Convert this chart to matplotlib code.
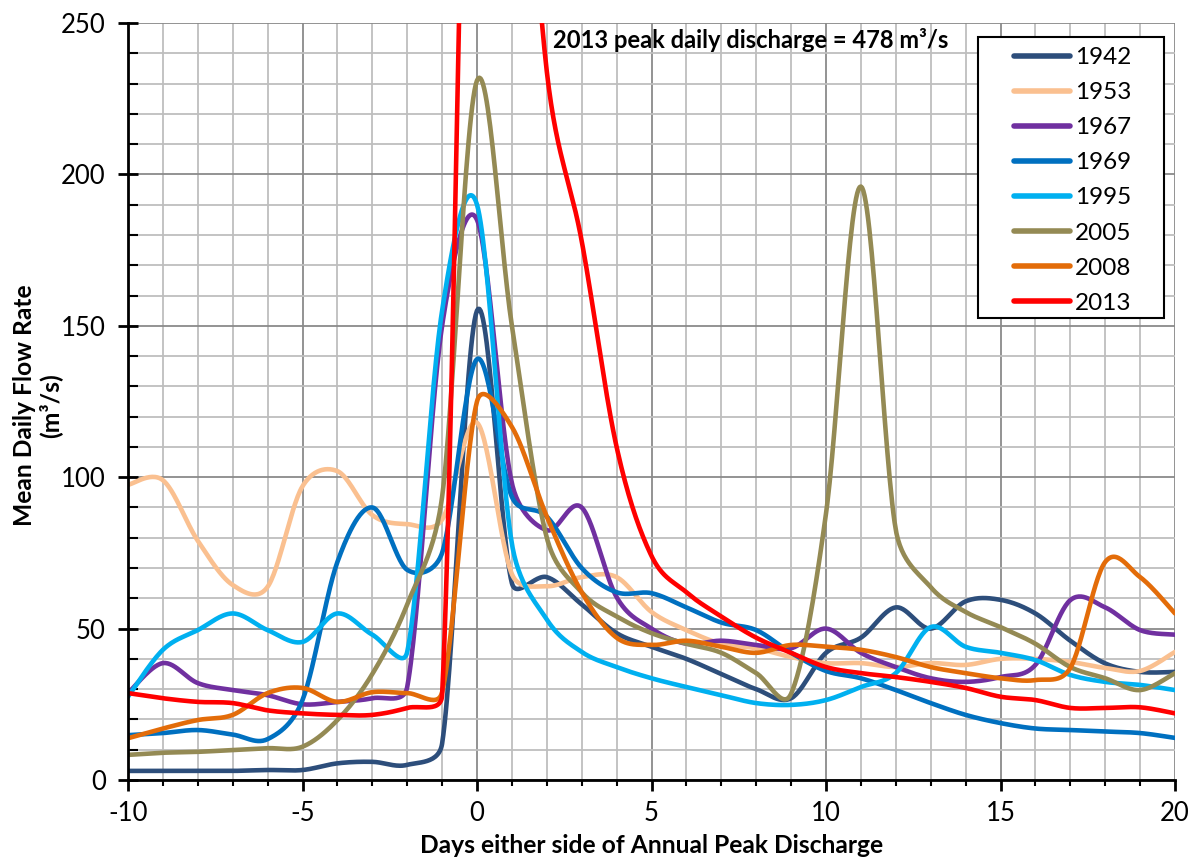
import numpy as np
import matplotlib
matplotlib.use("Agg")
import matplotlib.pyplot as plt
from matplotlib.patches import Rectangle
from matplotlib.ticker import MultipleLocator

plt.rcParams["font.family"] = ["Lato", "DejaVu Sans"]
plt.rcParams["axes.unicode_minus"] = False

days = list(range(-10, 21))

flow_1942 = [3, 3, 3, 3, 3.3, 3.3, 5.5, 6, 5, 12, 155, 65, 67, 58, 48.5, 44, 40, 35, 30, 27,
             42, 47, 57, 50, 59, 59.5, 55, 46, 38.5, 35.7, 35.7]
flow_1953 = [97.5, 99, 79, 64.4, 63.8, 97, 102, 87.5, 84.5, 86, 118, 68, 64, 67, 67, 55.5, 49.5,
             45, 43.5, 40.6, 38.6, 38.6, 37.3, 38.6, 38, 40, 40, 39, 37, 36, 42.3]
flow_1967 = [28.7, 38.6, 32, 29.7, 28, 25, 25.8, 27, 30.7, 150, 185, 98, 82.5, 90, 60.4, 50, 45,
             46, 44.6, 43.5, 50, 42, 37.3, 33.6, 32.4, 34, 38, 59.4, 57, 49.5, 48]
flow_1969 = [14.8, 15.5, 16.5, 15, 13.5, 26.4, 72, 90, 69.4, 75, 139, 93.5, 87, 70, 62, 61.7, 57,
             52, 49.5, 42, 36, 33.6, 29.7, 25.4, 21.5, 18.8, 17, 16.5, 16, 15.5, 13.9]
flow_1995 = [27.5, 43, 49.5, 55, 49.5, 45.6, 55, 48, 42.3, 155, 190, 78, 53, 42.3, 37.3, 33.6,
             30.7, 28, 25.4, 24.8, 26.4, 30.7, 35.3, 50.5, 44, 42, 39.6, 34.7, 32.4, 31.4, 29.7]
flow_2005 = [8.3, 9, 9.3, 9.9, 10.5, 11, 19.8, 35, 58, 93.5, 231, 150, 80, 62, 54, 48.5, 45, 42,
             35.3, 28.5, 88, 196, 82.6, 63.7, 55.5, 50.5, 45, 37.3, 33.6, 29.7, 35.3]
flow_2008 = [13.8, 17, 19.8, 21.5, 28.7, 30.4, 25.8, 29, 28.7, 29, 125, 116.6, 87, 62, 47, 44.6,
             46, 44, 42, 44.6, 44, 43, 40.6, 37.3, 35.3, 33.6, 33, 37, 72, 67, 55]
flow_2013 = [28.7, 27, 25.8, 25.4, 23, 22, 21.5, 21.5, 23.8, 28, 478, 380, 234, 178, 110, 74, 62,
             54, 47, 42, 37.3, 35.3, 34, 32.4, 30.4, 27.5, 26.4, 23.8, 23.8, 24, 22]

years = ["1942", "1953", "1967", "1969", "1995", "2005", "2008", "2013"]
series = [flow_1942, flow_1953, flow_1967, flow_1969, flow_1995, flow_2005, flow_2008, flow_2013]
colors = ["#2D4E7B", "#FAC090", "#7030A0", "#0070C0", "#00B0F0", "#948A54", "#E36C09", "#FF0000"]


def smooth(x, y, n=30, sx=34.9, sy=3.028):
    # bezier "smoothed line" like excel draws, control arms capped at half a segment
    P = np.column_stack([np.asarray(x, float) * sx, np.asarray(y, float) * sy])
    P = np.vstack([P[0], P, P[-1]])
    t = np.linspace(0, 1, n)[:, None]
    out = []
    for i in range(1, len(P) - 2):
        p0, p1, p2, p3 = P[i - 1:i + 3]
        d12 = np.linalg.norm(p2 - p1)
        f1 = min(1 / 6, d12 / (2 * np.linalg.norm(p2 - p0)))
        f2 = min(1 / 6, d12 / (2 * np.linalg.norm(p3 - p1)))
        b1 = p1 + (p2 - p0) * f1
        b2 = p2 - (p3 - p1) * f2
        c = (1 - t) ** 3 * p1 + 3 * (1 - t) ** 2 * t * b1 + 3 * (1 - t) * t ** 2 * b2 + t ** 3 * p2
        out.append(c if i == 1 else c[1:])
    c = np.vstack(out)
    return c[:, 0] / sx, c[:, 1] / sy


fig = plt.figure(figsize=(11.91, 8.58), dpi=100)
ax = fig.add_axes([128 / 1191, 1 - 780 / 858, 1047 / 1191, 757 / 858])

handles = []
for year, values, color in zip(years, series, colors):
    xs, ys = smooth(days, values)
    line, = ax.plot(xs, ys, color=color, lw=3.3, label=year, solid_capstyle="round")
    handles.append(line)

ax.set_xlim(-10, 20)
ax.set_ylim(0, 250)
ax.xaxis.set_major_locator(MultipleLocator(5))
ax.xaxis.set_minor_locator(MultipleLocator(1))
ax.yaxis.set_major_locator(MultipleLocator(50))
ax.yaxis.set_minor_locator(MultipleLocator(10))

ax.grid(which="minor", color="#BEBEBE", lw=1.3)
ax.grid(which="major", color="#8A8A8A", lw=1.3)
ax.set_axisbelow(True)

for side in ["top", "right"]:
    ax.spines[side].set_visible(False)
for side in ["left", "bottom"]:
    ax.spines[side].set_linewidth(2)
    ax.spines[side].set_zorder(5)

ax.tick_params(axis="x", which="major", direction="out", length=8, width=2, labelsize=18.5, pad=7)
ax.tick_params(axis="x", which="minor", direction="out", length=4, width=1.5)
ax.tick_params(axis="y", which="major", direction="inout", length=14, width=2, labelsize=18.5, pad=9)
ax.tick_params(axis="y", which="minor", direction="in", length=7, width=1.5)

ax.set_xlabel("Days either side of Annual Peak Discharge", fontsize=17.7, fontweight="bold")
ax.xaxis.set_label_coords(0.5, -0.071)
ax.set_ylabel("Mean Daily Flow Rate\n(m\u00b3/s)", fontsize=17.7, fontweight="bold", linespacing=1.1)
ax.yaxis.set_label_coords(-0.063, 0.495)

ax.text(2.18, 244.4, "2013 peak daily discharge = 478 m\u00b3/s", fontsize=17.1, fontweight="bold",
        ha="left", va="center")

# legend box drawn by hand so the padding matches
ax.add_patch(Rectangle((0.8118, 0.6103), 0.1777, 0.3712, transform=ax.transAxes,
                       facecolor="white", edgecolor="black", lw=1.5, zorder=6, clip_on=False))
leg = ax.legend(handles=handles, loc="upper left", bbox_to_anchor=(0.8462, 0.9683), borderaxespad=0,
                fontsize=17.5, frameon=False, handlelength=2.3, handletextpad=0.2,
                labelspacing=0.58, borderpad=0)
leg.set_zorder(7)
for line in leg.get_lines():
    line.set_linewidth(4)

fig.savefig("out.png", dpi=100)
